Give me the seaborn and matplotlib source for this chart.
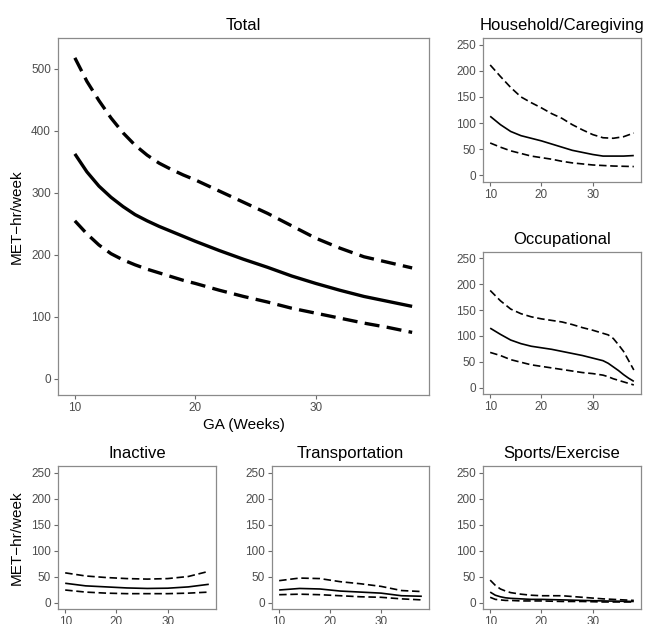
import numpy as np
import pandas as pd
import matplotlib
matplotlib.use("Agg")
import matplotlib.pyplot as plt
import seaborn as sns

# ---- data ----
total_ga = [10, 11, 12, 13, 14, 15, 16, 17, 18, 19, 20, 22, 24, 26, 28, 30, 32, 34, 36, 38]
total_upper = [518, 480, 449, 421, 397, 377, 361, 348, 338, 329, 321, 303, 285, 267, 247, 227, 211, 197, 188, 179]
total_mean = [363, 334, 311, 293, 278, 265, 255, 246, 238, 230, 222, 207, 193, 180, 166, 154, 143, 133, 125, 117]
total_lower = [255, 234, 216, 202, 192, 184, 177, 171, 165, 159, 154, 143, 133, 124, 114, 106, 98, 90, 83, 75]

house_ga = [10, 12, 14, 16, 18, 20, 22, 24, 26, 28, 30, 32, 34, 36, 38]
house_upper = [211, 189, 168, 150, 139, 129, 118, 109, 97, 87, 78, 72, 71, 74, 81]
house_mean = [113, 97, 84, 76, 71, 66, 60, 54, 48, 44, 40, 37, 37, 37, 38]
house_lower = [62, 54, 47, 42, 37, 34, 31, 27, 24, 22, 20, 19, 18, 17.5, 17]

occ_ga = [10, 12, 14, 16, 18, 20, 22, 24, 26, 28, 30, 32, 33, 34, 35, 36, 37, 38]
occ_upper = [188, 168, 152, 143, 137, 133, 130, 127, 122, 116, 111, 105, 102, 95, 83, 70, 52, 34]
occ_mean = [115, 103, 92, 85, 80, 77, 74, 70, 66, 62, 57, 52, 47, 40, 33, 25, 18, 12]
occ_lower = [68, 62, 54, 49, 44, 41, 38, 35, 32, 29, 27, 24, 21, 17, 14, 11, 8, 5]

inact_ga = [10, 14, 18, 22, 26, 30, 34, 38]
inact_upper = [57, 51, 48, 46, 45, 46, 50, 60]
inact_mean = [37, 32, 30, 28, 27, 27.5, 30, 35]
inact_lower = [24, 20, 18, 17, 17, 17, 18, 20]

trans_ga = [10, 14, 18, 22, 26, 30, 34, 38]
trans_upper = [42, 47, 46, 40, 36, 31, 23, 21]
trans_mean = [24, 27, 26, 22, 20, 18, 13, 12]
trans_lower = [15, 16, 15, 13, 11, 10, 7, 5]

sport_ga = [10, 11, 12, 13, 14, 16, 18, 20, 24, 28, 32, 38]
sport_upper = [43, 33, 26, 22, 19, 16, 14, 13, 13, 10, 7, 4]
sport_mean = [20, 14, 11, 9, 8, 7, 6, 6, 5, 4, 3, 2]
sport_lower = [10, 6, 5, 4, 4, 3, 3, 3, 2, 2, 1, 1]

panel_titles = ["Total", "Household/Caregiving", "Occupational",
                "Inactive", "Transportation", "Sports/Exercise"]
x_ticks = [10, 20, 30]
total_yticks = [0, 100, 200, 300, 400, 500]
small_yticks = [0, 50, 100, 150, 200, 250]
y_label = "MET\u2212hr/week"
x_label = "GA (Weeks)"

# ---- style ----
sns.set_theme(style="white")
plt.rcParams["font.family"] = ["Liberation Sans", "DejaVu Sans"]

W, H = 645, 624
fig = plt.figure(figsize=(W / 100, H / 100), dpi=100)


def box(l, r, t, b):
    return [l / W, 1 - b / H, (r - l) / W, (b - t) / H]


def make_df(ga, up, mid, lo):
    return pd.DataFrame({
        "GA": list(ga) * 3,
        "value": list(up) + list(mid) + list(lo),
        "band": ["upper"] * len(ga) + ["mean"] * len(ga) + ["lower"] * len(ga),
    })


def draw(ax, ga, up, mid, lo, lw, title, yticks, ylim):
    df = make_df(ga, up, mid, lo)
    for band in ["upper", "mean", "lower"]:
        sub = df[df["band"] == band]
        sns.lineplot(data=sub, x="GA", y="value", ax=ax, color="black",
                     linewidth=lw, estimator=None, sort=True)
        line = ax.lines[-1]
        line.set_solid_capstyle("butt")
        line.set_solid_joinstyle("round")
        if band != "mean":
            line.set_dashes((4.5, 2.2))
            line.set_dash_capstyle("butt")
    ax.set_xlim(8.6, 39.4)
    ax.set_ylim(*ylim)
    ax.set_xticks(x_ticks)
    ax.set_yticks(yticks)
    ax.set_xlabel("")
    ax.set_ylabel("")
    ax.set_title(title, fontsize=12, color="black", pad=6)
    for s in ax.spines.values():
        s.set_color("#8a8a8a")
        s.set_linewidth(0.9)
    ax.tick_params(axis="both", which="both", length=3, width=0.8,
                   color="#6b6b6b", labelcolor="#4d4d4d", labelsize=8.5,
                   pad=2, bottom=True, left=True)
    ax.grid(False)


small_ylim = (-12.5, 262.5)

ax_total = fig.add_axes(box(58, 429, 38, 395))
draw(ax_total, total_ga, total_upper, total_mean, total_lower, 2.4,
     panel_titles[0], total_yticks, (-26, 550))
ax_total.set_xlabel(x_label, fontsize=11, color="black", labelpad=3)
ax_total.set_ylabel(y_label, fontsize=11, color="black", labelpad=5)

ax_house = fig.add_axes(box(483, 641, 38, 182))
draw(ax_house, house_ga, house_upper, house_mean, house_lower, 1.2,
     panel_titles[1], small_yticks, small_ylim)

ax_occ = fig.add_axes(box(483, 641, 252, 394))
draw(ax_occ, occ_ga, occ_upper, occ_mean, occ_lower, 1.2,
     panel_titles[2], small_yticks, small_ylim)

ax_inact = fig.add_axes(box(58, 216, 466, 609))
draw(ax_inact, inact_ga, inact_upper, inact_mean, inact_lower, 1.2,
     panel_titles[3], small_yticks, small_ylim)
ax_inact.set_ylabel(y_label, fontsize=11, color="black", labelpad=5)

ax_trans = fig.add_axes(box(272, 429, 466, 609))
draw(ax_trans, trans_ga, trans_upper, trans_mean, trans_lower, 1.2,
     panel_titles[4], small_yticks, small_ylim)

ax_sport = fig.add_axes(box(483, 641, 466, 609))
draw(ax_sport, sport_ga, sport_upper, sport_mean, sport_lower, 1.2,
     panel_titles[5], small_yticks, small_ylim)

fig.savefig("out.png", dpi=100, facecolor="white")
